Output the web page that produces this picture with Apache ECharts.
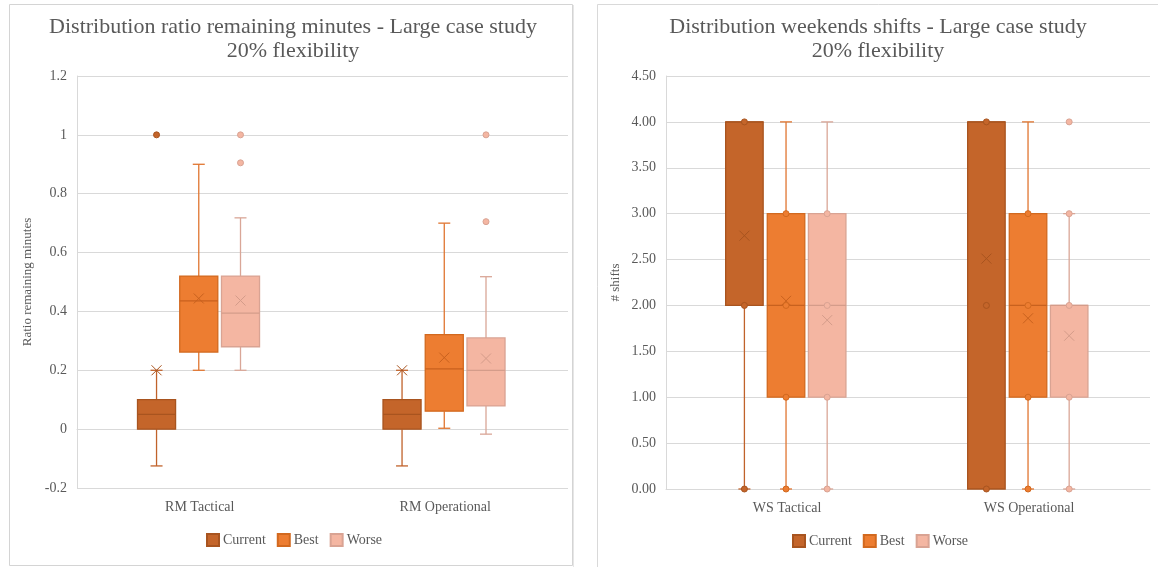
<!DOCTYPE html>
<html>
<head>
<meta charset="utf-8">
<script src="https://cdn.jsdelivr.net/npm/echarts@6/dist/echarts.min.js"></script>
<style>
  html, body { margin: 0; padding: 0; background: #fff; }
  #main { width: 1158px; height: 567px; }
</style>
</head>
<body>
<div id="main"></div>
<script>
// ── Data ─────────────────────────────────────────────────
// each row: [min, q1, median, q3, max, mean]
const rmCategories = ['RM Tactical', 'RM Operational'];
const rmCurrent = [[-0.125, 0, 0.05, 0.10, 0.20, 0.20], [-0.125, 0, 0.05, 0.10, 0.20, 0.20]];
const rmBest    = [[0.20, 0.262, 0.436, 0.52, 0.90, 0.444], [0.003, 0.061, 0.205, 0.321, 0.70, 0.243]];
const rmWorse   = [[0.20, 0.28, 0.394, 0.52, 0.718, 0.437], [-0.017, 0.079, 0.20, 0.31, 0.518, 0.24]];
// outliers: [categoryIndex, value]
const rmCurrentPts = [[0, 1.0]];
const rmBestPts    = [];
const rmWorsePts   = [[0, 1.0], [0, 0.905], [1, 1.0], [1, 0.705]];

const wsCategories = ['WS Tactical', 'WS Operational'];
const wsCurrent = [[0, 2, 4, 4, 4, 2.76], [0, 0, 4, 4, 4, 2.51]];
const wsBest    = [[0, 1, 2, 3, 4, 2.05], [0, 1, 2, 3, 4, 1.86]];
const wsWorse   = [[0, 1, 2, 3, 4, 1.84], [0, 1, 2, 2, 3, 1.67]];
// inner points + outliers: [categoryIndex, value]
const wsCurrentPts = [[0, 4], [0, 2], [0, 0], [1, 4], [1, 2], [1, 0]];
const wsBestPts    = [[0, 3], [0, 2], [0, 1], [0, 0], [1, 3], [1, 2], [1, 1], [1, 0]];
const wsWorsePts   = [[0, 3], [0, 2], [0, 1], [0, 0], [1, 4], [1, 3], [1, 2], [1, 1], [1, 0]];

const rmTicks = { min: -0.2, max: 1.2, interval: 0.2 };
const wsTicks = { min: 0, max: 4.5, interval: 0.5 };

// ── Styles ──────────────────────────────────────────────
const FONT = "'Liberation Serif', 'Times New Roman', serif";
const TXT = '#595959';
const GRID = '#D9D9D9';
const groups = [
  { name: 'Current', fill: '#C4652A', border: '#A8541F', whisker: '#C0622A', mark: '#A8541F', off: -0.176 },
  { name: 'Best',    fill: '#ED7D31', border: '#D2691F', whisker: '#E07530', mark: '#C8611E', off: -0.004 },
  { name: 'Worse',   fill: '#F4B6A2', border: '#D9A393', whisker: '#D9A697', mark: '#D49C8A', off: 0.166 },
];

function boxRenderer(g) {
  return function (params, api) {
    const cat = api.value(0);
    const bw = api.size([1, 0])[0];
    const cx = api.coord([cat, 0])[0] + g.off * bw;
    const w = bw * 0.155;
    const y = v => api.coord([cat, v])[1];
    const yMin = y(api.value(1)), yQ1 = y(api.value(2)), yMed = y(api.value(3));
    const yQ3 = y(api.value(4)), yMax = y(api.value(5)), yMean = y(api.value(6));
    const cap = 6, xs = 5;
    const ls = { stroke: g.whisker, lineWidth: 1.3 };
    const kids = [];
    if (yMax < yQ3) {
      kids.push({ type: 'line', shape: { x1: cx, y1: yQ3, x2: cx, y2: yMax }, style: ls });
      kids.push({ type: 'line', shape: { x1: cx - cap, y1: yMax, x2: cx + cap, y2: yMax }, style: ls });
    }
    if (yMin > yQ1) {
      kids.push({ type: 'line', shape: { x1: cx, y1: yQ1, x2: cx, y2: yMin }, style: ls });
      kids.push({ type: 'line', shape: { x1: cx - cap, y1: yMin, x2: cx + cap, y2: yMin }, style: ls });
    }
    kids.push({ type: 'rect', shape: { x: cx - w / 2, y: yQ3, width: w, height: yQ1 - yQ3 },
      style: { fill: g.fill, stroke: g.border, lineWidth: 1.3 } });
    kids.push({ type: 'line', shape: { x1: cx - w / 2, y1: yMed, x2: cx + w / 2, y2: yMed },
      style: { stroke: g.mark, lineWidth: 1.3 } });
    kids.push({ type: 'line', shape: { x1: cx - xs, y1: yMean - xs, x2: cx + xs, y2: yMean + xs },
      style: { stroke: g.mark, lineWidth: 1 } });
    kids.push({ type: 'line', shape: { x1: cx - xs, y1: yMean + xs, x2: cx + xs, y2: yMean - xs },
      style: { stroke: g.mark, lineWidth: 1 } });
    return { type: 'group', children: kids };
  };
}

function pointRenderer(g) {
  return function (params, api) {
    const cat = api.value(0);
    const bw = api.size([1, 0])[0];
    const p = api.coord([cat, api.value(1)]);
    return { type: 'circle', shape: { cx: p[0] + g.off * bw, cy: p[1], r: 3 },
      style: { fill: g.fill, stroke: g.border, lineWidth: 1 } };
  };
}

function seriesFor(gridIdx, boxes, pts) {
  const out = [];
  groups.forEach((g, i) => {
    out.push({
      type: 'custom', name: g.name, xAxisIndex: gridIdx, yAxisIndex: gridIdx,
      renderItem: boxRenderer(g),
      itemStyle: { color: g.fill, borderColor: g.border, borderWidth: 1 },
      encode: { x: 0, y: [1, 2, 3, 4, 5, 6] },
      data: boxes[i].map((r, c) => [c].concat(r)),
      z: 2, silent: true,
    });
    out.push({
      type: 'custom', name: g.name, xAxisIndex: gridIdx, yAxisIndex: gridIdx,
      renderItem: pointRenderer(g),
      itemStyle: { color: g.fill, borderColor: g.border, borderWidth: 1 },
      encode: { x: 0, y: 1 },
      data: pts[i],
      z: 3, silent: true,
    });
  });
  return out;
}

function xAxisFor(gridIdx, cats) {
  return {
    type: 'category', gridIndex: gridIdx, data: cats,
    axisLine: { show: true, lineStyle: { color: GRID } },
    axisTick: { show: false },
    axisLabel: { color: TXT, fontFamily: FONT, fontSize: 14, margin: 12 },
  };
}

function yAxisFor(gridIdx, ticks, name, fmt, gap) {
  return {
    type: 'value', gridIndex: gridIdx, min: ticks.min, max: ticks.max, interval: ticks.interval,
    name: name, nameLocation: 'middle', nameGap: gap,
    nameTextStyle: { color: TXT, fontFamily: FONT, fontSize: 13 },
    axisLine: { show: true, lineStyle: { color: GRID } },
    axisTick: { show: false },
    axisLabel: { color: TXT, fontFamily: FONT, fontSize: 14, margin: 10, formatter: fmt },
    splitLine: { lineStyle: { color: GRID, width: 1 } },
  };
}

const legendBase = {
  data: groups.map(g => ({ name: g.name, icon: 'rect' })),
  itemWidth: 12, itemHeight: 12, itemGap: 11,
  textStyle: { color: TXT, fontFamily: FONT, fontSize: 14, padding: [0, 0, 0, -1] },
  padding: 0, selectedMode: false,
};

const chart = echarts.init(document.getElementById('main'));
chart.setOption({
  backgroundColor: '#fff',
  animation: false,
  title: [
    { text: 'Distribution ratio remaining minutes - Large case study\n20% flexibility',
      left: 293, top: 15, textAlign: 'center', padding: 0,
      textStyle: { color: TXT, fontFamily: FONT, fontSize: 22, fontWeight: 'normal', lineHeight: 24 } },
    { text: 'Distribution weekends shifts - Large case study\n20% flexibility',
      left: 878, top: 15, textAlign: 'center', padding: 0,
      textStyle: { color: TXT, fontFamily: FONT, fontSize: 22, fontWeight: 'normal', lineHeight: 24 } },
  ],
  legend: [
    Object.assign({ left: 206, top: 533 }, legendBase),
    Object.assign({ left: 792, top: 534 }, legendBase),
  ],
  graphic: [
    { type: 'rect', shape: { x: 9.5, y: 4.5, width: 563, height: 561 },
      style: { fill: 'none', stroke: '#D4D4D4', lineWidth: 1 }, z: -10 },
    { type: 'line', shape: { x1: 573.5, y1: 5, x2: 573.5, y2: 567 },
      style: { stroke: '#E6E6E6', lineWidth: 1 }, z: -10 },
    { type: 'rect', shape: { x: 597.5, y: 4.5, width: 600, height: 600 },
      style: { fill: 'none', stroke: '#D9D9D9', lineWidth: 1 }, z: -10 },
  ],
  grid: [
    { left: 77, top: 76, width: 491, height: 412 },
    { left: 666, top: 76, width: 484, height: 413 },
  ],
  xAxis: [xAxisFor(0, rmCategories), xAxisFor(1, wsCategories)],
  yAxis: [
    yAxisFor(0, rmTicks, 'Ratio remaining minutes', v => String(+v.toFixed(1)), 43),
    yAxisFor(1, wsTicks, '# shifts', v => v.toFixed(2), 44),
  ],
  series: seriesFor(0, [rmCurrent, rmBest, rmWorse], [rmCurrentPts, rmBestPts, rmWorsePts])
    .concat(seriesFor(1, [wsCurrent, wsBest, wsWorse], [wsCurrentPts, wsBestPts, wsWorsePts])),
});
</script>
</body>
</html>
